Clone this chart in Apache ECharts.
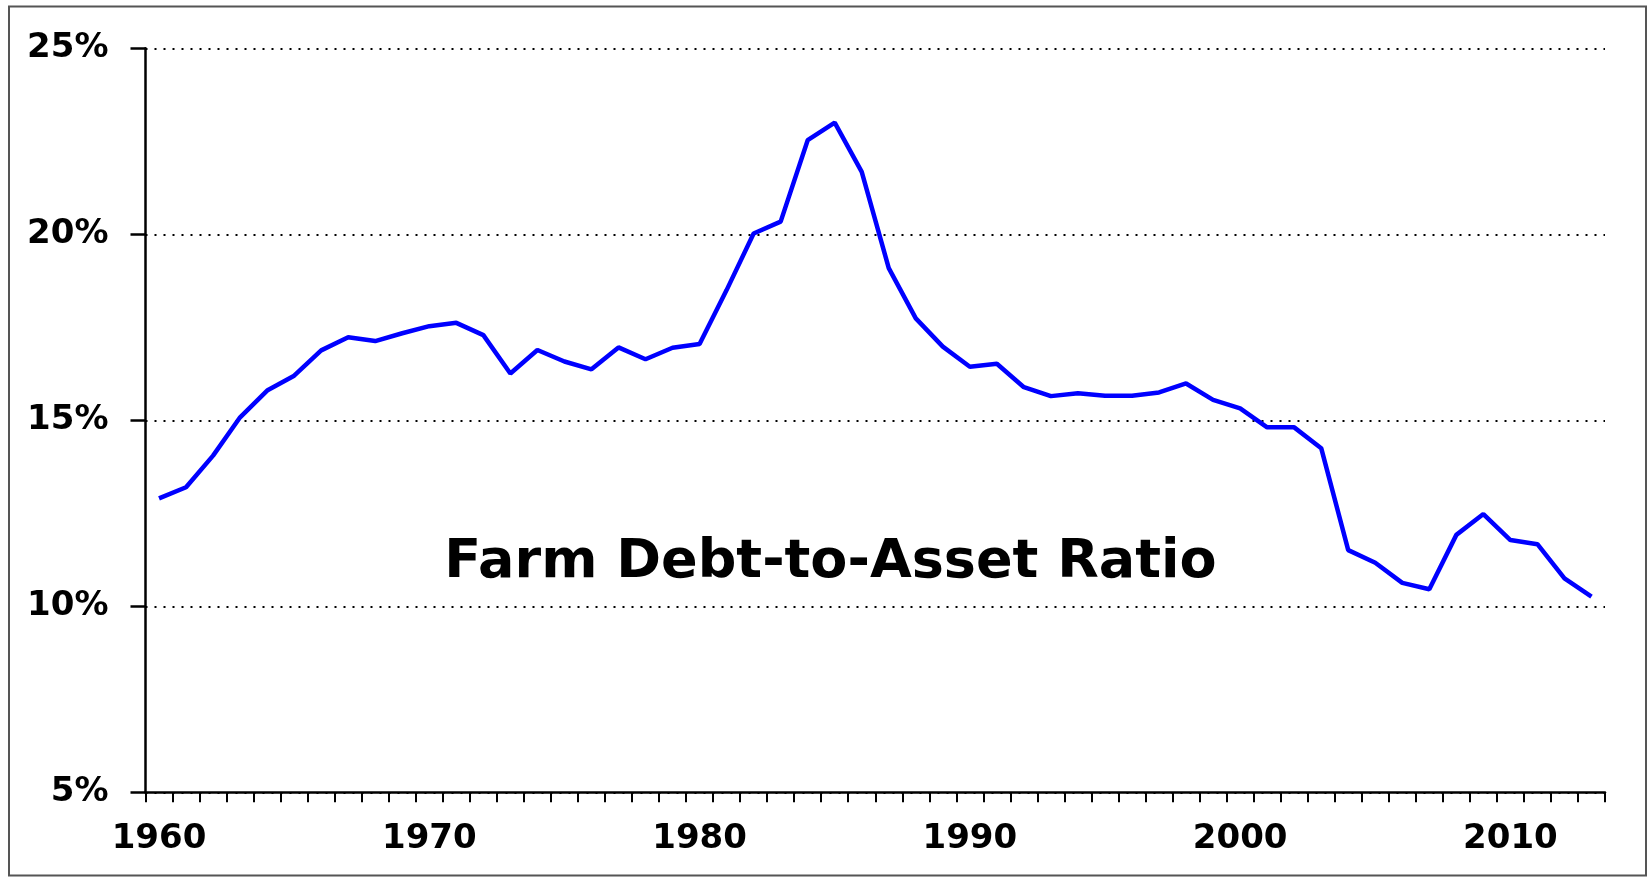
<!DOCTYPE html>
<html>
<head>
<meta charset="utf-8">
<script src="https://cdn.jsdelivr.net/npm/echarts@6/dist/echarts.min.js"></script>
<style>
html,body{margin:0;padding:0;background:#fff;}
#chart{width:1651px;height:877px;}
</style>
</head>
<body>
<div id="chart"></div>
<script>
var years = [];
for (var y = 1960; y <= 2013; y++) years.push(String(y));

var debtToAsset = [
  12.90, 13.20, 14.05, 15.08, 15.80, 16.20, 16.88, 17.23, 17.13, 17.34,
  17.53, 17.62, 17.29, 16.26, 16.89, 16.58, 16.37, 16.96, 16.64, 16.95,
  17.05, 18.50, 20.02, 20.34, 22.53, 23.00, 21.68, 19.09, 17.74, 16.98,
  16.44, 16.52, 15.89, 15.65, 15.73, 15.66, 15.66, 15.75, 15.99, 15.55,
  15.32, 14.81, 14.81, 14.25, 11.51, 11.17, 10.63, 10.46, 11.92, 12.48,
  11.78, 11.67, 10.75, 10.26
];

var titleText = 'Farm Debt-to-Asset Ratio';

var chart = echarts.init(document.getElementById('chart'), null, {renderer: 'canvas'});
var labelFont = {
  fontFamily: 'DejaVu Sans',
  fontWeight: 'bold',
  fontSize: 34,
  color: '#000'
};
chart.setOption({
  animation: false,
  backgroundColor: '#fff',
  grid: {left: 145.5, right: 46, top: 48.3, bottom: 84.7, containLabel: false},
  xAxis: {
    type: 'category',
    data: years,
    boundaryGap: true,
    axisLine: {show: true, lineStyle: {color: '#000', width: 2.5}},
    axisTick: {show: true, interval: 0, length: 10, inside: false, lineStyle: {color: '#000', width: 2}},
    axisLabel: Object.assign({interval: 9, margin: 30}, labelFont),
    splitLine: {show: false}
  },
  yAxis: {
    type: 'value',
    min: 5,
    max: 25,
    interval: 5,
    axisLine: {show: true, lineStyle: {color: '#000', width: 2.5}},
    axisTick: {show: true, length: 15, inside: false, lineStyle: {color: '#000', width: 2.5}},
    axisLabel: Object.assign({margin: 37, formatter: '{value}%'}, labelFont),
    splitLine: {show: true, lineStyle: {color: '#000', width: 2, type: [2, 7]}}
  },
  series: [{
    type: 'line',
    data: debtToAsset,
    showSymbol: false,
    symbol: 'none',
    smooth: false,
    lineStyle: {color: '#0000FF', width: 4.5},
    itemStyle: {color: '#0000FF'},
    z: 5
  }],
  graphic: [
    {
      type: 'rect',
      shape: {x: 9, y: 6.5, width: 1637, height: 869},
      style: {fill: null, stroke: '#555', lineWidth: 2},
      silent: true,
      z: 0
    },
    {
      type: 'text',
      x: 830.5,
      y: 563,
      style: {
        text: titleText,
        fontFamily: 'DejaVu Sans',
        fontWeight: 'bold',
        fontSize: 54,
        fill: '#000',
        textAlign: 'center',
        textVerticalAlign: 'middle'
      },
      z: 10
    }
  ]
});
</script>
</body>
</html>
